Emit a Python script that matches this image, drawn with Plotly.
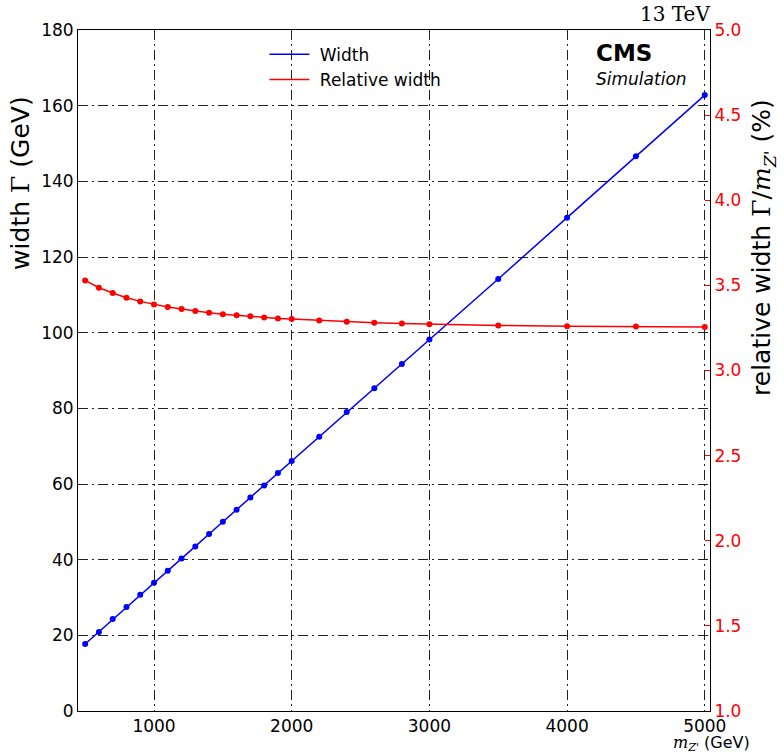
import plotly.graph_objects as go

mass = [500, 600, 700, 800, 900, 1000, 1100, 1200, 1300, 1400, 1500, 1600, 1700,
        1800, 1900, 2000, 2200, 2400, 2600, 2800, 3000, 3500, 4000, 4500, 5000]
width = [17.7, 20.9, 24.3, 27.5, 30.7, 33.9, 37.1, 40.3, 43.5, 46.8, 50.0, 53.2, 56.4,
         59.6, 62.9, 66.1, 72.5, 79.0, 85.3, 91.7, 98.2, 114.2, 130.4, 146.6, 162.8]
rel_width = [3.529, 3.486, 3.455, 3.427, 3.406, 3.388, 3.373, 3.361, 3.349, 3.339, 3.331,
             3.324, 3.318, 3.312, 3.306, 3.302, 3.294, 3.286, 3.280, 3.276, 3.272,
             3.265, 3.260, 3.259, 3.256]
x_ticks = [1000, 2000, 3000, 4000, 5000]
y_ticks = [0, 20, 40, 60, 80, 100, 120, 140, 160, 180]
y2_ticks = [1.0, 1.5, 2.0, 2.5, 3.0, 3.5, 4.0, 4.5, 5.0]

FONT = "DejaVu Sans"
SERIF = "DejaVu Serif"
BLUE = "#0000ff"
RED = "#ff0000"
GRID = "#222222"
DASH = "10px,4px,2px,4px"

fig = go.Figure()
fig.add_trace(go.Scatter(x=mass, y=width, mode="lines+markers", showlegend=False,
                         line=dict(color=BLUE, width=1.5), marker=dict(color=BLUE, size=6)))
fig.add_trace(go.Scatter(x=mass, y=rel_width, mode="lines+markers", showlegend=False, yaxis="y2",
                         line=dict(color=RED, width=1.5), marker=dict(color=RED, size=6)))
# legend entries (line only)
fig.add_trace(go.Scatter(x=[None], y=[None], mode="lines", name="\u00a0Width",
                         line=dict(color=BLUE, width=1.5)))
fig.add_trace(go.Scatter(x=[None], y=[None], mode="lines", name="\u00a0Relative width",
                         line=dict(color=RED, width=1.5)))

fig.update_layout(
    width=784, height=755,
    margin=dict(l=78, r=74, t=30, b=44),
    paper_bgcolor="white", plot_bgcolor="white",
    font=dict(family=FONT, size=17, color="black"),
    xaxis=dict(range=[448, 5038], tickvals=x_ticks, ticks="", showline=True, mirror=True,
               linecolor="black", linewidth=1, showgrid=True, gridcolor=GRID, gridwidth=1,
               griddash=DASH, zeroline=False, tickfont=dict(size=17)),
    yaxis=dict(range=[0, 180], tickvals=y_ticks, ticks="", showline=True, mirror=True,
               linecolor="black", linewidth=1, showgrid=True, gridcolor=GRID, gridwidth=1,
               griddash=DASH, zeroline=False, tickfont=dict(size=17)),
    yaxis2=dict(range=[1, 5], tickvals=y2_ticks, tickformat=".1f", overlaying="y", side="right",
                ticks="inside", ticklen=5, tickcolor=RED, tickfont=dict(size=17, color=RED),
                showgrid=False, zeroline=False, showline=True, linecolor="black"),
    legend=dict(x=0.295, y=0.99, xanchor="left", yanchor="top", bgcolor="rgba(0,0,0,0)",
                font=dict(size=17), itemwidth=40, tracegroupgap=0),
    annotations=[
        dict(text="<b>CMS</b>", x=0.816, y=0.966, xref="paper", yref="paper", xanchor="left",
             yanchor="middle", showarrow=False, font=dict(size=23, family=FONT)),
        dict(text="<i>Simulation</i>", x=0.816, y=0.928, xref="paper", yref="paper",
             xanchor="left", yanchor="middle", showarrow=False, font=dict(size=17, family=FONT)),
        dict(text="13 TeV", x=1.003, y=1.024, xref="paper", yref="paper", xanchor="right",
             yanchor="middle", showarrow=False, font=dict(size=20, family=SERIF)),
        dict(text="<span style='font-family:" + SERIF + "'><i>m</i><sub><i>Z'</i></sub></span> (GeV)",
             x=1.066, y=-0.047, xref="paper", yref="paper", xanchor="right", yanchor="middle",
             showarrow=False, font=dict(size=16, family=FONT)),
        dict(text="width <span style='font-family:" + SERIF + "'>Γ</span> (GeV)",
             x=-0.09, y=0.645, xref="paper", yref="paper", xanchor="center", yanchor="bottom",
             textangle=-90, showarrow=False, font=dict(size=25, family=FONT)),
        dict(text="relative width <span style='font-family:" + SERIF + "'>Γ/<i>m</i><sub><i>Z'</i></sub></span> (%)",
             x=1.085, y=0.46, xref="paper", yref="paper", xanchor="center", yanchor="bottom",
             textangle=-90, showarrow=False, font=dict(size=25, family=FONT)),
    ],
)

fig.write_html("out.html")
